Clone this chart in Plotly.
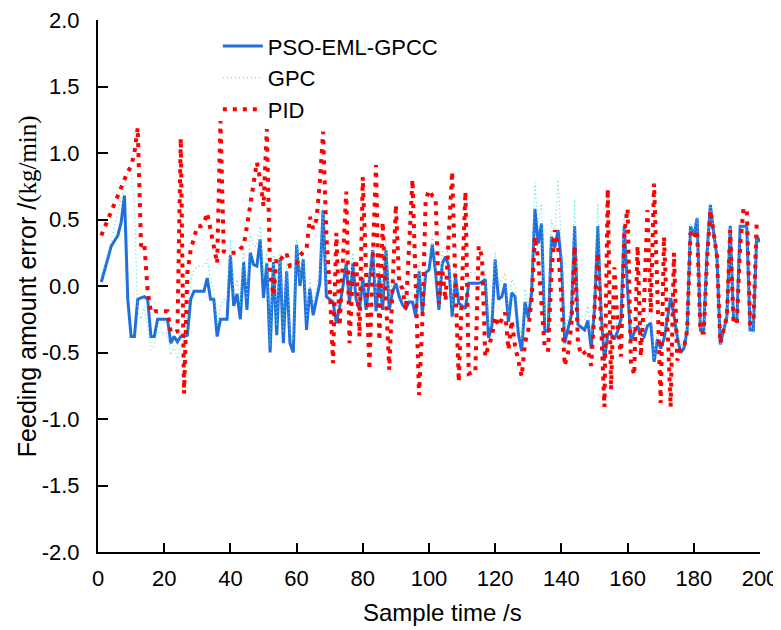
import plotly.graph_objects as go

# ------------------------------
# Data
sample_time = list(range(1, 201))

pso_eml_gpcc = [
    0.03, 0.12, 0.22, 0.30, 0.34, 0.38, 0.48, 0.68, -0.10, -0.38,
    -0.38, -0.10, -0.09, -0.08, -0.10, -0.38, -0.38, -0.25, -0.25, -0.25,
    -0.25, -0.43, -0.38, -0.42, -0.38, -0.38, -0.37, -0.10, -0.04, -0.04,
    -0.04, -0.04, 0.06, -0.10, -0.10, -0.38, -0.25, -0.25, -0.25, 0.23,
    -0.15, -0.06, -0.25, 0.18, -0.18, 0.25, 0.16, 0.15, 0.35, -0.09,
    0.17, -0.50, 0.18, -0.37, 0.20, -0.43, 0.11, -0.43, -0.50, 0.31,
    0.00, 0.20, -0.33, -0.02, -0.22, -0.10, 0.02, 0.57, -0.08, -0.10,
    -0.12, -0.28, -0.16, 0.00, 0.17, -0.13, 0.17, -0.10, -0.18, 0.06,
    -0.18, 0.05, 0.27, -0.19, 0.08, -0.18, 0.27, -0.18, -0.04, 0.02,
    -0.08, -0.14, -0.17, -0.12, -0.12, -0.23, 0.11, -0.21, 0.10, 0.12,
    0.31, 0.10, -0.18, 0.17, 0.22, 0.15, -0.23, 0.07, -0.13, -0.15,
    -0.17, 0.02, 0.02, 0.02, 0.02, 0.03, 0.05, -0.39, -0.30, 0.20,
    -0.10, -0.08, 0.02, -0.27, -0.05, -0.08, -0.36, -0.49, -0.12, -0.24,
    -0.05, 0.58, 0.32, 0.47, -0.34, -0.34, 0.37, 0.29, 0.42, 0.18,
    -0.43, -0.32, -0.22, 0.45, -0.29, -0.31, -0.33, -0.26, -0.47, -0.17,
    0.45, -0.20, -0.56, -0.36, -0.36, -0.40, -0.34, -0.25, 0.45, -0.03,
    -0.41, -0.35, -0.30, -0.36, -0.38, -0.30, -0.28, -0.57, -0.40, -0.47,
    -0.40, -0.25, -0.09, -0.22, -0.38, -0.50, -0.47, -0.33, 0.45, 0.38,
    0.51, -0.33, -0.33, 0.25, 0.61, 0.40, 0.22, -0.44, -0.33, -0.23,
    0.45, -0.25, -0.27, 0.45, 0.45, 0.45, -0.33, -0.33, 0.38, 0.33,
]

gpc = [
    0.08, 0.15, 0.25, 0.35, 0.45, 0.55, 0.65, 0.75, 0.85, 0.88,
    0.60, -0.20, -0.25, -0.15, -0.30, -0.48, -0.45, -0.35, -0.35, -0.35,
    -0.36, -0.52, -0.45, -0.55, -0.45, -0.40, -0.20, 0.05, 0.12, 0.15,
    0.15, 0.15, 0.20, 0.05, -0.05, -0.30, -0.15, -0.10, -0.10, 0.35,
    -0.05, 0.05, -0.15, 0.30, -0.10, 0.40, 0.30, 0.30, 0.45, 0.05,
    0.25, -0.45, 0.25, -0.30, 0.25, -0.35, 0.18, -0.35, -0.40, 0.35,
    0.05, 0.25, -0.25, 0.05, -0.15, 0.00, 0.10, 0.60, 0.00, -0.02,
    -0.05, -0.20, -0.08, 0.08, 0.25, -0.05, 0.25, -0.02, -0.10, 0.15,
    -0.10, 0.12, 0.35, -0.10, 0.15, -0.10, 0.35, -0.10, 0.05, 0.10,
    0.00, -0.05, -0.10, -0.05, -0.05, -0.15, 0.18, -0.12, 0.18, 0.20,
    0.38, 0.18, -0.10, 0.25, 0.30, 0.22, -0.15, 0.15, -0.05, -0.08,
    -0.10, 0.10, 0.10, 0.10, 0.12, 0.12, 0.12, -0.30, -0.20, 0.25,
    0.00, 0.05, 0.10, -0.20, 0.05, 0.00, -0.25, -0.40, -0.02, -0.15,
    0.05, 0.78, 0.45, 0.62, -0.25, -0.28, 0.50, 0.40, 0.80, 0.30,
    -0.35, -0.25, -0.12, 0.65, -0.20, -0.22, -0.25, -0.15, -0.40, -0.05,
    0.62, -0.10, -0.50, -0.30, -0.30, -0.32, -0.25, -0.15, 0.55, 0.05,
    -0.35, -0.28, -0.20, -0.28, -0.30, -0.22, -0.18, -0.55, -0.35, -0.42,
    -0.35, -0.18, -0.02, -0.15, -0.32, -0.45, -0.42, -0.30, 0.47, 0.40,
    0.52, -0.36, -0.36, 0.25, 0.62, 0.40, 0.22, -0.46, -0.35, -0.25,
    0.46, -0.28, -0.30, 0.46, 0.46, 0.46, -0.36, -0.36, 0.40, 0.35,
]

pid = [
    0.38, 0.45, 0.50, 0.56, 0.62, 0.68, 0.75, 0.80, 0.86, 0.90,
    1.00, 1.19, 0.30, 0.32, -0.04, -0.20, -0.19, -0.19, -0.19, -0.19,
    -0.19, -0.35, -0.35, -0.34, 1.11, -0.81, 0.10, 0.27, 0.35, 0.45,
    0.45, 0.47, 0.55, 0.42, 0.30, 0.17, 1.24, 0.26, 0.25, 0.25,
    0.25, 0.25, 0.28, 0.30, 0.45, 0.60, 0.75, 0.93, 0.80, 0.60,
    1.18, 0.10, -0.07, 0.22, 0.22, 0.20, 0.24, 0.15, 0.16, 0.16,
    0.23, 0.26, 0.28, 0.52, 0.43, 0.50, 0.77, 1.16, 0.37, 0.00,
    -0.58, 0.40, -0.30, 0.20, 0.71, -0.43, 0.10, 0.20, -0.38, 0.82,
    0.10, -0.63, 0.20, 0.91, -0.41, 0.48, -0.10, -0.63, 0.00, 0.61,
    0.02, -0.02, -0.18, 0.30, 0.80, 0.00, -0.82, -0.26, 0.65, 0.72,
    0.68, 0.66, -0.13, 0.13, -0.11, 0.40, 0.86, 0.00, -0.72, 0.00,
    0.71, -0.66, -0.65, -0.65, 0.30, 0.22, -0.53, -0.45, -0.38, -0.23,
    -0.30, -0.25, -0.20, -0.48, -0.26, -0.45, -0.55, -0.68, -0.43, -0.33,
    -0.10, 0.37, 0.20, -0.10, -0.48, -0.48, 0.10, 0.42, 0.30, -0.10,
    -0.60, -0.50, -0.30, 0.30, -0.43, -0.52, -0.50, -0.48, -0.60, -0.20,
    0.25, -0.30, -0.91, 0.73, -0.78, 0.14, -0.30, -0.53, 0.40, 0.58,
    -0.57, -0.67, 0.30, -0.53, -0.10, 0.57, -0.20, 0.77, -0.10, -0.88,
    0.37, -0.30, -0.91, 0.25, -0.56, -0.48, -0.47, -0.33, 0.40, 0.36,
    0.42, -0.35, -0.35, 0.20, 0.57, 0.40, 0.22, -0.43, -0.33, -0.23,
    0.42, -0.28, -0.28, 0.30, 0.58, 0.58, -0.28, -0.28, 0.47, 0.47,
]

x_ticks = [0, 20, 40, 60, 80, 100, 120, 140, 160, 180, 200]
y_ticks = [-2.0, -1.5, -1.0, -0.5, 0.0, 0.5, 1.0, 1.5, 2.0]

# ------------------------------
fig = go.Figure()

fig.add_trace(go.Scatter(
    x=sample_time, y=pso_eml_gpcc, name="PSO-EML-GPCC", mode="lines",
    line=dict(color="#1f6fdc", width=3)
))
fig.add_trace(go.Scatter(
    x=sample_time, y=gpc, name="GPC", mode="lines",
    line=dict(color="#5ed8d0", width=1.2, dash="1px,3px")
))
fig.add_trace(go.Scatter(
    x=sample_time, y=pid, name="PID", mode="lines",
    line=dict(color="#ff0000", width=4, dash="4px,6px")
))

font_main = "Liberation Sans, Arial, sans-serif"

# la page a une marge de 8 px : la figure est réduite d'autant
fig.update_layout(
    width=773, height=622,
    margin=dict(l=90, r=21, t=12, b=78),
    plot_bgcolor="white", paper_bgcolor="white",
    font=dict(family=font_main, size=22, color="black"),
    showlegend=True,
    legend=dict(
        x=0.181, y=0.99, xanchor="left", yanchor="top",
        bgcolor="rgba(0,0,0,0)", font=dict(size=22),
        itemwidth=40, tracegroupgap=0
    ),
    xaxis=dict(
        range=[0, 200], tickvals=x_ticks, ticktext=[str(v) for v in x_ticks],
        showline=True, linecolor="black", linewidth=2,
        ticks="inside", ticklen=9, tickwidth=2, tickcolor="black",
        ticklabelstandoff=6, ticklabeloverflow="allow",
        showgrid=False, zeroline=False, mirror=False, automargin=False,
        tickfont=dict(size=22)
    ),
    yaxis=dict(
        range=[-2.0, 2.0], tickvals=y_ticks, ticktext=[f"{v:.1f}" for v in y_ticks],
        showline=True, linecolor="black", linewidth=2,
        ticks="inside", ticklen=10, tickwidth=2, tickcolor="black",
        ticklabelstandoff=12, ticklabeloverflow="allow",
        showgrid=False, zeroline=False, mirror=False, automargin=False,
        tickfont=dict(size=22)
    ),
    annotations=[
        dict(
            text="Sample time /s", x=0.52, y=-0.113, xref="paper", yref="paper",
            xanchor="center", yanchor="middle", showarrow=False,
            font=dict(size=24)
        ),
        dict(
            text="Feeding amount error /<span style='font-family:Liberation Serif, Times New Roman, serif'>(kg/min)</span>",
            x=-0.107, y=0.5, xref="paper", yref="paper", textangle=-90,
            xanchor="center", yanchor="middle", showarrow=False,
            font=dict(size=25)
        ),
    ]
)

fig.write_html("out.html")
